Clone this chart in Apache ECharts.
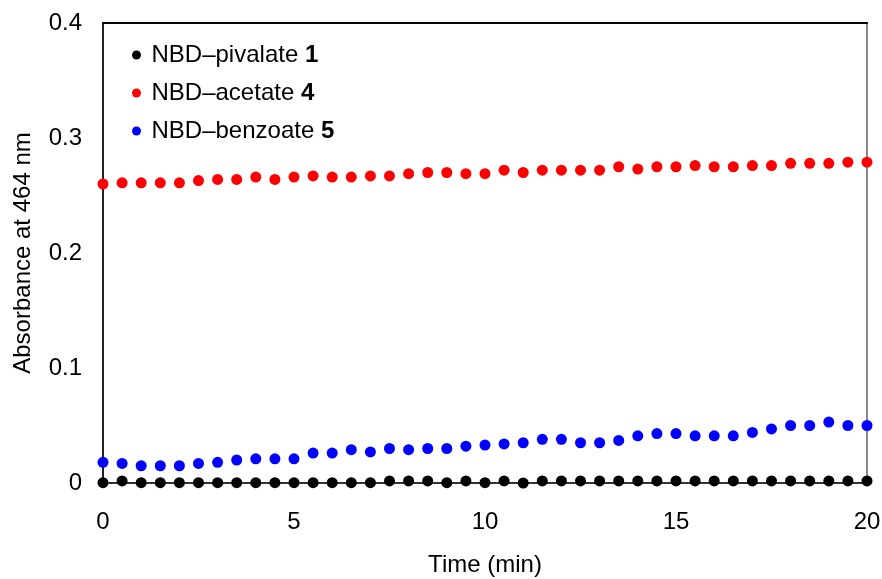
<!DOCTYPE html>
<html>
<head>
	<meta charset="UTF-8">
	<title></title>
	<style>body{margin:0;}</style>
</head>
<body>
	<div id="chart-wrap" style="width:882px;height:579px;"></div>
</body>
<script src="https://cdn.jsdelivr.net/npm/echarts@6/dist/echarts.min.js"></script>
<script>
var chart = echarts.init(document.getElementById('chart-wrap'));

// time, min (every 0.5 min)
var times = [0, 0.5, 1, 1.5, 2, 2.5, 3, 3.5, 4, 4.5, 5, 5.5, 6, 6.5, 7, 7.5, 8, 8.5, 9, 9.5, 10,
    10.5, 11, 11.5, 12, 12.5, 13, 13.5, 14, 14.5, 15, 15.5, 16, 16.5, 17, 17.5, 18, 18.5, 19, 19.5, 20];

var pivalate = [0.0003, 0.0018, 0.0003, 0.0003, 0.0003, 0.0003, 0.0003, 0.0003, 0.0003, 0.0003, 0.0003,
    0.0003, 0.0003, 0.0003, 0.0003, 0.0018, 0.0018, 0.0018, 0.0003, 0.0018, 0.0003,
    0.0018, 0.0000, 0.0018, 0.0018, 0.0018, 0.0018, 0.0018, 0.0018, 0.0018, 0.0018,
    0.0018, 0.0018, 0.0018, 0.0018, 0.0018, 0.0018, 0.0018, 0.0018, 0.0018, 0.0018];

var acetate = [0.260, 0.261, 0.261, 0.261, 0.261, 0.263, 0.264, 0.264, 0.266, 0.264, 0.266,
    0.267, 0.266, 0.266, 0.267, 0.267, 0.269, 0.270, 0.270, 0.269, 0.269,
    0.272, 0.270, 0.272, 0.272, 0.272, 0.272, 0.275, 0.273, 0.275, 0.275,
    0.276, 0.275, 0.275, 0.276, 0.276, 0.278, 0.278, 0.278, 0.279, 0.279];

var benzoate = [0.018, 0.017, 0.015, 0.015, 0.015, 0.017, 0.018, 0.020, 0.021, 0.021, 0.021,
    0.026, 0.026, 0.029, 0.027, 0.030, 0.029, 0.030, 0.030, 0.032, 0.033,
    0.034, 0.035, 0.038, 0.038, 0.035, 0.035, 0.037, 0.041, 0.043, 0.043,
    0.041, 0.041, 0.041, 0.044, 0.047, 0.050, 0.050, 0.053, 0.050, 0.050];

var yTicks = [0, 0.1, 0.2, 0.3, 0.4];
var xTicks = [0, 5, 10, 15, 20];

var pairUp = function (ys) {
    var res = [];
    for (var i = 0; i < times.length; i++) {
        res.push([times[i], ys[i]]);
    }
    return res;
};

var seriesNames = ['NBD\u2013pivalate 1', 'NBD\u2013acetate 4', 'NBD\u2013benzoate 5'];
var seriesColors = ['#000000', '#ff0000', '#0000ff'];
var seriesData = [pivalate, acetate, benzoate];

var series = [];
for (var k = 0; k < seriesNames.length; k++) {
    series.push({
        name: seriesNames[k],
        type: 'scatter',
        symbol: 'circle',
        symbolSize: 11,
        xAxisIndex: 0,
        data: pairUp(seriesData[k]),
        itemStyle: { color: seriesColors[k], opacity: 1 },
        z: 3 + k
    });
}

var font = 'Liberation Sans, Arial, sans-serif';
var fs = 24;

var option = {
    animation: false,
    backgroundColor: '#ffffff',
    textStyle: { fontFamily: font },
    grid: {
        left: 103,
        top: 23,
        right: 15,
        bottom: 96,
        outerBoundsMode: 'none',
        containLabel: false,
        show: true,
        borderColor: '#888',
        borderWidth: 2
    },
    legend: {
        orient: 'vertical',
        left: 127,
        top: 38,
        icon: 'circle',
        itemWidth: 20,
        itemHeight: 9,
        itemGap: 14,
        data: seriesNames,
        formatter: function (name) {
            var cut = name.lastIndexOf(' ');
            return '{a|' + name.slice(0, cut) + ' }{b|' + name.slice(cut + 1) + '}';
        },
        textStyle: {
            fontFamily: font,
            rich: {
                a: { fontSize: fs, lineHeight: 24, color: '#000', fontFamily: font },
                b: { fontSize: fs, lineHeight: 24, color: '#000', fontWeight: 'bold', fontFamily: font }
            }
        }
    },
    xAxis: [{
        type: 'value',
        min: 0,
        max: 20,
        interval: 5,
        name: 'Time (min)',
        nameLocation: 'middle',
        nameGap: 70,
        nameTextStyle: { fontSize: fs, color: '#000', fontFamily: font },
        axisLine: { show: true, onZero: false, lineStyle: { color: '#333', width: 2 } },
        axisTick: { show: true, inside: true, length: 5, lineStyle: { color: '#333' } },
        axisLabel: {
            fontSize: fs, color: '#000', margin: 27,
            formatter: function (v) { return xTicks.indexOf(v) >= 0 ? String(v) : ''; }
        },
        splitLine: { show: false }
    }, {
        type: 'value',
        position: 'top',
        min: 0,
        max: 20,
        interval: 5,
        axisLine: { show: true, onZero: false, lineStyle: { color: '#000', width: 2 } },
        axisTick: { show: false },
        axisLabel: { show: false },
        splitLine: { show: false }
    }],
    yAxis: {
        type: 'value',
        min: 0,
        max: 0.4,
        interval: 0.1,
        name: 'Absorbance at 464 nm',
        nameLocation: 'middle',
        nameGap: 68,
        nameTextStyle: { fontSize: fs, color: '#000', fontFamily: font },
        axisLine: { show: true, lineStyle: { color: '#000', width: 1.5 } },
        axisTick: { show: false },
        axisLabel: {
            fontSize: fs, color: '#000', margin: 21,
            formatter: function (v) {
                for (var i = 0; i < yTicks.length; i++) {
                    if (Math.abs(yTicks[i] - v) < 1e-9) return String(yTicks[i]);
                }
                return '';
            }
        },
        splitLine: { show: false }
    },
    series: series
};

chart.setOption(option);
</script>
</html>
